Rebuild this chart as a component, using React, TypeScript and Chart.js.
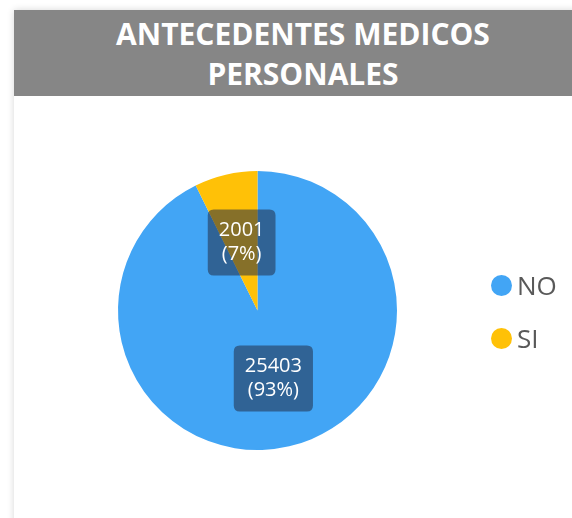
import React, { useEffect, useRef } from "react";
import { Chart, registerables } from "chart.js";

Chart.register(...registerables);

const titleLines = ["ANTECEDENTES MEDICOS", "PERSONALES"];
const categories = ["NO", "SI"];
const values = [25403, 2001];
const colors = ["#42A5F5", "#FFC107"];

const FONT = "'Open Sans', 'Noto Sans', sans-serif";

const labelBoxPlugin = {
  id: "labelBoxes",
  afterDatasetsDraw(chart: any) {
    const ctx = chart.ctx;
    const meta = chart.getDatasetMeta(0);
    const data = chart.data.datasets[0].data as number[];
    const total = data.reduce((a, b) => a + b, 0);
    ctx.save();
    ctx.font = `20px ${FONT}`;
    ctx.textAlign = "center";
    ctx.textBaseline = "middle";
    meta.data.forEach((arc: any, i: number) => {
      const pos = arc.tooltipPosition();
      const lines = [String(data[i]), `(${Math.round((data[i] / total) * 100)}%)`];
      const lh = 24;
      const w = Math.max(...lines.map((l) => ctx.measureText(l).width)) + 22;
      const h = lines.length * lh + 18;
      const x = pos.x - w / 2;
      const y = pos.y - h / 2;
      ctx.fillStyle = "rgba(35,46,70,0.55)";
      ctx.beginPath();
      const r = 6;
      ctx.moveTo(x + r, y);
      ctx.lineTo(x + w - r, y);
      ctx.quadraticCurveTo(x + w, y, x + w, y + r);
      ctx.lineTo(x + w, y + h - r);
      ctx.quadraticCurveTo(x + w, y + h, x + w - r, y + h);
      ctx.lineTo(x + r, y + h);
      ctx.quadraticCurveTo(x, y + h, x, y + h - r);
      ctx.lineTo(x, y + r);
      ctx.quadraticCurveTo(x, y, x + r, y);
      ctx.closePath();
      ctx.fill();
      ctx.fillStyle = "#ffffff";
      lines.forEach((l, k) => {
        ctx.fillText(l, pos.x, pos.y + (k - (lines.length - 1) / 2) * lh);
      });
    });
    ctx.restore();
  },
};

export default function App() {
  const canvasRef = useRef<HTMLCanvasElement>(null);

  useEffect(() => {
    if (!canvasRef.current) return;
    const chart = new Chart(canvasRef.current, {
      type: "pie",
      data: {
        labels: categories,
        datasets: [
          {
            data: values,
            backgroundColor: colors,
            borderWidth: 0,
          },
        ],
      },
      options: {
        animation: false,
        responsive: false,
        maintainAspectRatio: false,
        layout: { padding: { left: 104, right: 175, top: 75, bottom: 68 } },
        plugins: {
          legend: { display: false },
          tooltip: { enabled: false },
        },
      },
      plugins: [labelBoxPlugin],
    });
    return () => chart.destroy();
  }, []);

  return (
    <div
      style={{
        position: "absolute",
        left: 0,
        top: 0,
        width: 572,
        height: 518,
        overflow: "hidden",
        background: "#ffffff",
        fontFamily: FONT,
      }}
    >
      <div
        style={{
          position: "absolute",
          left: 14,
          top: 10,
          width: 578,
          height: 540,
          background: "#ffffff",
          boxShadow: "0 0 7px rgba(0,0,0,0.16)",
        }}
      >
        <div
          style={{
            height: 86,
            background: "#868686",
            color: "#ffffff",
            fontWeight: 700,
            fontSize: 30,
            lineHeight: "40px",
            textAlign: "center",
            paddingTop: 4,
            boxSizing: "border-box",
            whiteSpace: "nowrap",
          }}
        >
          {titleLines.map((t) => (
            <div key={t}>{t}</div>
          ))}
        </div>
      </div>
      <canvas
        ref={canvasRef}
        width={558}
        height={422}
        style={{ position: "absolute", left: 14, top: 96, width: 558, height: 422 }}
      />
      {categories.map((c, i) => (
        <div
          key={c}
          style={{
            position: "absolute",
            left: 491,
            top: 270 + i * 53,
            height: 30,
            display: "flex",
            alignItems: "center",
          }}
        >
          <span
            style={{
              display: "inline-block",
              width: 21,
              height: 21,
              borderRadius: "50%",
              background: colors[i],
              marginRight: 5,
            }}
          />
          <span style={{ fontSize: 26, color: "#595959", lineHeight: "30px" }}>{c}</span>
        </div>
      ))}
    </div>
  );
}
